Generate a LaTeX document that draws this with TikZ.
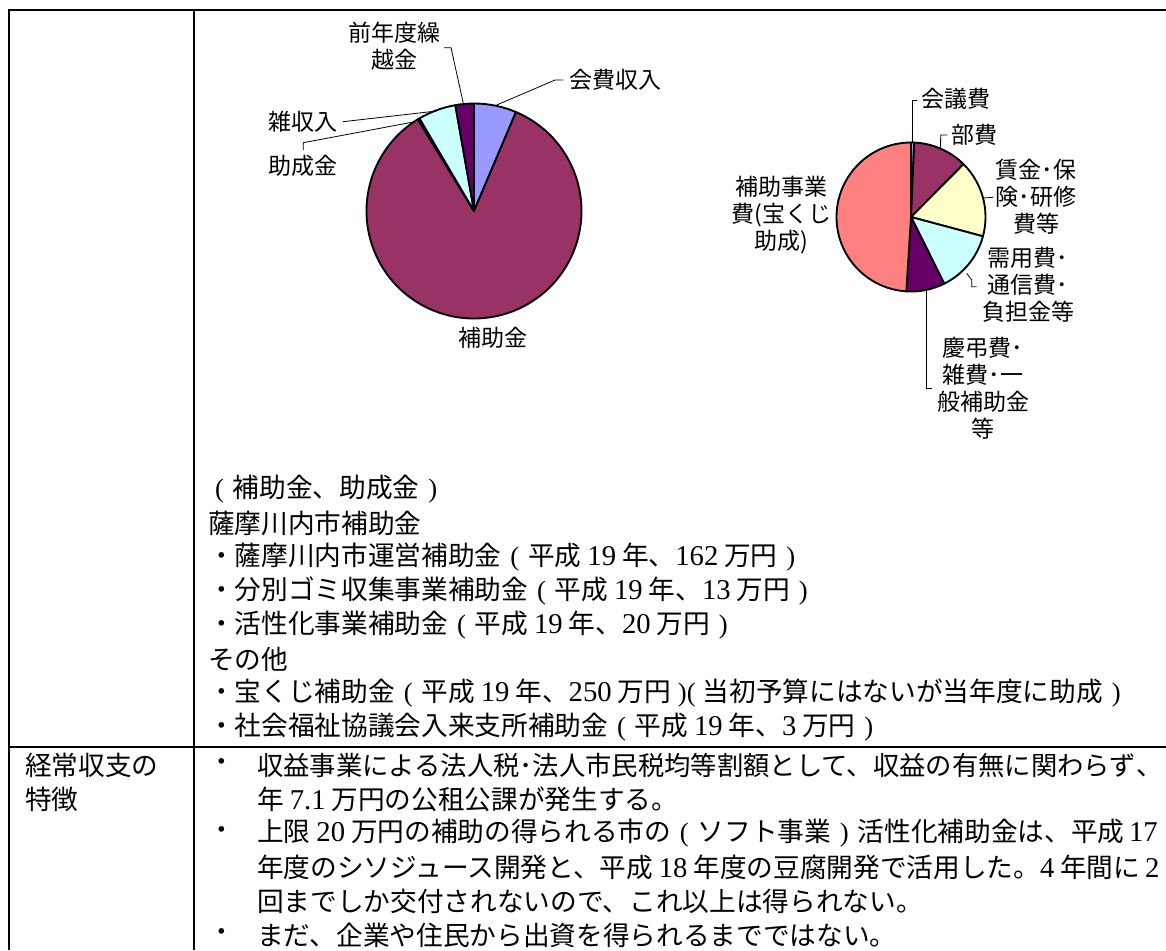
\documentclass[tikz,border=0pt]{standalone}
\usepackage{fontspec}
\setmainfont{Noto Sans CJK JP}
\newfontfamily\numfont{Liberation Serif}
\newcommand{\lblfont}{\fontsize{17.25pt}{20.25pt}\selectfont}
\newcommand{\bodyfont}{\fontsize{20pt}{26pt}\selectfont}
\newcommand{\dgtf}{\numfont\fontsize{21.5pt}{26pt}\selectfont}
\newcommand{\dgt}[1]{\hspace{0.22em}{\dgtf #1}\hspace{0.22em}}
\newcommand{\dgtr}[1]{{\dgtf #1}\hspace{0.22em}}
\newcommand{\dgtl}[1]{\hspace{0.18em}{\dgtf #1}}
\newcommand{\plft}{\makebox[1em][c]{\numfont(}}
\newcommand{\prgt}{\makebox[1em][c]{\numfont)}}
\definecolor{cA}{HTML}{9999FF}
\definecolor{cB}{HTML}{993366}
\definecolor{cC}{HTML}{FFFFCC}
\definecolor{cD}{HTML}{CCFFFF}
\definecolor{cE}{HTML}{660066}
\definecolor{cF}{HTML}{FF8080}
\newcommand{\pslice}[3]{\filldraw[slice,fill=#3] (0,0) -- (#1:\R) arc[start angle=#1,end angle=#2,radius=\R] -- cycle;}
\begin{document}
\begin{tikzpicture}[x=0.75pt,y=-0.75pt,
  tbl/.style={line width=1.3pt},
  slice/.style={draw=black,line width=1.4pt,line join=round},
  leader/.style={draw=black,line width=0.6pt},
  lbl/.style={inner sep=0pt,align=center,font=\lblfont},
  body/.style={anchor=west,inner sep=0pt,font=\bodyfont}]
\useasboundingbox (0,0) rectangle (1166,950);
% table rules
\draw[tbl] (8,10) -- (1166,10);
\draw[tbl] (9,10) -- (9,950);
\draw[tbl] (194,10) -- (194,950);
\draw[tbl] (9,747) -- (1166,747);
% ---- income pie
\begin{scope}[shift={(474,211)},x=0.75pt,y=0.75pt]
\def\R{107.5}
\pslice{90}{67}{cA}
\pslice{67}{-238.5}{cB}
\pslice{-238.5}{-239.5}{cC}
\pslice{-239.5}{-260}{cD}
\pslice{-260}{-270}{cE}
\end{scope}
\node[lbl] (kaihi) at (615,80) {会費収入};
\node[lbl] (zenendo) at (394.5,46.5) {前年度繰\\越金};
\node[lbl] (zatsu) at (303,122) {雑収入};
\node[lbl] (josei) at (303,166) {助成金};
\node[lbl] (hojo) at (493,338) {補助金};
\coordinate (k1) at (496.7,105); \coordinate (k2) at (555,80); \coordinate (k3) at (563.3,80);
\draw[leader] (k1) -- (k2) -- (k3);
\coordinate (z1) at (463.3,103.3); \coordinate (z2) at (451,47.7); \coordinate (z3) at (444,47.7);
\draw[leader] (z1) -- (z2) -- (z3);
\coordinate (s1) at (436.7,111); \coordinate (s2) at (343,121.7);
\draw[leader] (s1) -- (s2);
\coordinate (j1) at (415,121.7); \coordinate (j2) at (303.3,142.7); \coordinate (j3) at (303.3,150);
\draw[leader] (j1) -- (j2) -- (j3);
% ---- expense pie
\begin{scope}[shift={(911,217)},x=0.75pt,y=0.75pt]
\def\R{74.5}
\pslice{90}{87.5}{cA}
\pslice{87.5}{45.2}{cB}
\pslice{45.2}{-15}{cC}
\pslice{-15}{-63.5}{cD}
\pslice{-63.5}{-93.6}{cE}
\pslice{-93.6}{-270}{cF}
\end{scope}
\node[lbl] (kaigi) at (956,99) {会議費};
\node[lbl] (buhi) at (974,135) {部費};
\node[lbl] (chingin) at (1036,196.3) {賃金･保\\険･研修\\費等};
\node[lbl] (juyo) at (1028,285) {需用費･\\通信費･\\負担金等};
\node[lbl] (keicho) at (983,388.3) {慶弔費･\\雑費･一\\般補助金\\等};
\node[lbl] (hojojigyo) at (781.7,214.7) {補助事業\\費(宝くじ\\助成)};
\coordinate (g1) at (912.3,141.7); \coordinate (g2) at (912.3,100); \coordinate (g3) at (916.7,100);
\draw[leader] (g1) -- (g2) -- (g3);
\coordinate (b1) at (940.5,148); \coordinate (b2) at (940.7,135); \coordinate (b3) at (947.3,135);
\draw[leader] (b1) -- (b2) -- (b3);
\coordinate (c1) at (983.3,198); \coordinate (c2) at (993.3,197.3);
\draw[leader] (c1) -- (c2);
\coordinate (y1) at (966.7,273.3); \coordinate (y2) at (971.7,280); \coordinate (y3) at (971.7,286.7); \coordinate (y4) at (976.7,286.7);
\draw[leader] (y1) -- (y2) -- (y3) -- (y4);
\coordinate (e1) at (926.7,290); \coordinate (e2) at (926.7,388.3); \coordinate (e3) at (931.7,388.3);
\draw[leader] (e1) -- (e2) -- (e3);
% ---- top cell text
\node[body] (t1) at (206,489) {\plft 補助金、助成金\prgt};
\node[body] (t2) at (208,523) {薩摩川内市補助金};
\node[body] (t3) at (208,557) {・薩摩川内市運営補助金\plft 平成\dgt{19}年、\dgtr{162}万円\prgt};
\node[body] (t4) at (208,591) {・分別ゴミ収集事業補助金\plft 平成\dgt{19}年、\dgtr{13}万円\prgt};
\node[body] (t5) at (208,625) {・活性化事業補助金\plft 平成\dgt{19}年、\dgtr{20}万円\prgt};
\node[body] (t6) at (208,659) {その他};
\node[body] (t7) at (208,693) {・宝くじ補助金\plft 平成\dgt{19}年、\dgtr{250}万円\makebox[0.6em][r]{\numfont)}\makebox[0.6em][l]{\numfont(}当初予算にはないが当年度に助成\prgt};
\node[body] (t8) at (208,727) {・社会福祉協議会入来支所補助金\plft 平成\dgt{19}年、\dgtr{3}万円\prgt};
% ---- bottom row
\node[body] (h1) at (25,765) {経常収支の};
\node[body] (h2) at (25,799) {特徴};
\node[body] (p1) at (208,765) {・};
\node[body,font=\fontsize{19.75pt}{26pt}\selectfont] (u1) at (257,765) {収益事業による法人税･法人市民税均等割額として、収益の有無に関わらず\makebox[0.3em][l]{、}};
\node[body] (u2) at (257,799) {年\dgt{7.1}万円の公租公課が発生する。};
\node[body] (p2) at (208,833) {・};
\node[body] (u3) at (257,833) {上限\dgt{20}万円の補助の得られる市の\plft ソフト事業\prgt 活性化補助金は、平成\dgtl{17}};
\node[body] (u4) at (257,867) {年度のシソジュース開発と、平成\dgt{18}年度の豆腐開発で活用した。\dgtr{4}年間に\dgtl{2}};
\node[body] (u5) at (257,901) {回までしか交付されないので、これ以上は得られない。};
\node[body] (p3) at (208,935) {・};
\node[body] (u6) at (257,935) {まだ、企業や住民から出資を得られるまでではない。};
\end{tikzpicture}
\end{document}
